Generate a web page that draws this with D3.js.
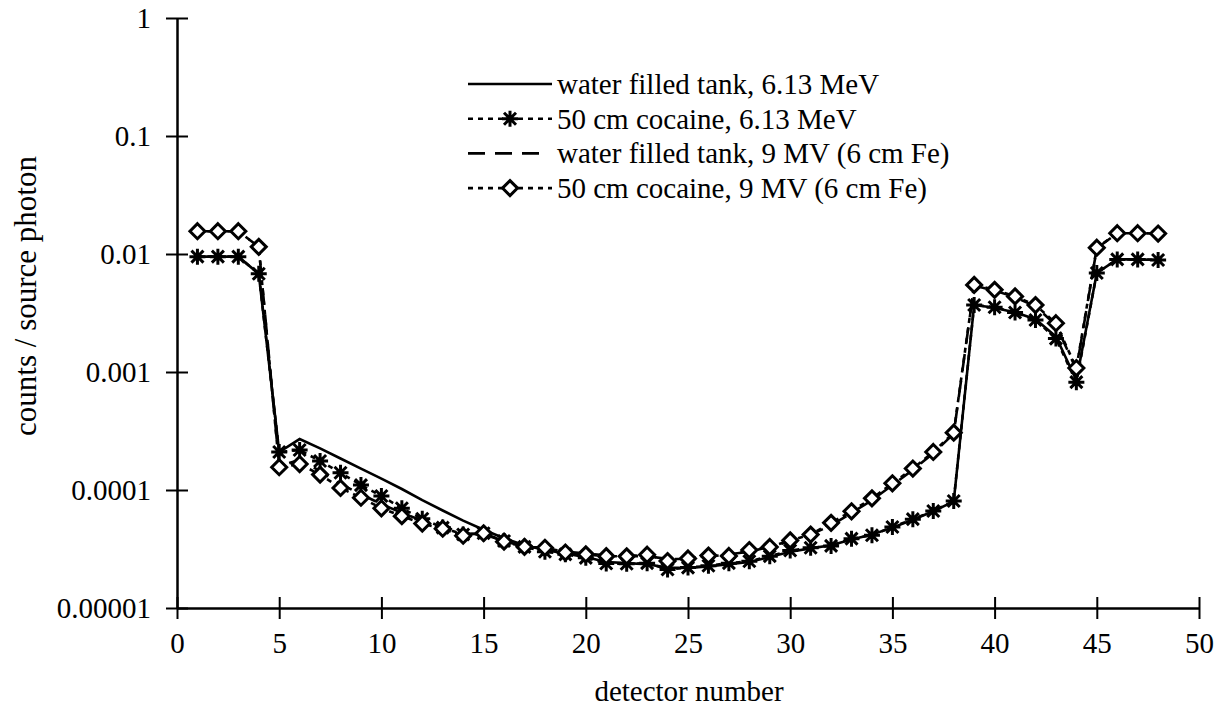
<!DOCTYPE html>
<html>
<head>
<meta charset="utf-8">
<script src="https://cdn.jsdelivr.net/npm/d3@7"></script>
<style>
  body { margin: 0; background: #fff; }
</style>
</head>
<body>
<div id="chart"></div>
<script>
// detector numbers
const detectors = [1, 2, 3, 4, 5, 6, 7, 8, 9, 10, 11, 12, 13, 14, 15, 16, 17, 18, 19, 20, 21, 22, 23, 24,
    25, 26, 27, 28, 29, 30, 31, 32, 33, 34, 35, 36, 37, 38, 39, 40, 41, 42, 43, 44, 45, 46, 47, 48];

// water filled tank, 6.13 MeV
const water613 = [0.0095, 0.0095, 0.0095, 0.0068, 0.00021, 0.00027, 0.000225, 0.000185, 0.000152, 0.000125,
    0.000102, 0.000082, 0.000067, 0.000055, 0.000046, 0.000039, 0.000034, 0.000031, 0.000029, 0.000027,
    0.0000245, 0.000024, 0.0000235, 0.000022, 0.0000218, 0.0000225, 0.0000235, 0.0000245, 0.000027, 0.00003,
    0.000032, 0.000034, 0.000038, 0.000042, 0.000048, 0.000056, 0.000066, 0.00008, 0.0037, 0.0035,
    0.0032, 0.0028, 0.002, 0.00085, 0.0069, 0.009, 0.009, 0.0089];

// 50 cm cocaine, 6.13 MeV
const cocaine613 = [0.0095, 0.0095, 0.0095, 0.0068, 0.00021, 0.000218, 0.000176, 0.00014, 0.00011, 0.000089,
    0.00007, 0.000057, 0.000048, 0.000042, 0.000043, 0.000037, 0.000033, 0.00003, 0.0000285, 0.0000266,
    0.0000238, 0.0000237, 0.000024, 0.0000212, 0.000022, 0.0000228, 0.000024, 0.0000249, 0.0000275, 0.0000307,
    0.0000324, 0.0000336, 0.0000387, 0.0000414, 0.0000486, 0.0000566, 0.0000663, 0.0000807, 0.0037, 0.00354,
    0.00319, 0.00276, 0.00192, 0.00082, 0.0069, 0.009, 0.009, 0.0089];

// water filled tank, 9 MV (6 cm Fe)
const water9 = [0.0156, 0.0156, 0.0156, 0.0115, 0.00016, 0.00018, 0.000145, 0.000112, 0.000092, 0.000076,
    0.000064, 0.000055, 0.000049, 0.000043, 0.000042, 0.000037, 0.000034, 0.000032, 0.00003, 0.000029,
    0.000028, 0.0000275, 0.0000275, 0.000026, 0.000026, 0.0000272, 0.0000285, 0.00003, 0.000033, 0.0000365,
    0.000042, 0.00005, 0.000064, 0.000082, 0.00011, 0.000148, 0.000205, 0.0003, 0.0054, 0.0049,
    0.0043, 0.0036, 0.0025, 0.00105, 0.0112, 0.015, 0.015, 0.0149];

// 50 cm cocaine, 9 MV (6 cm Fe)
const cocaine9 = [0.0156, 0.0156, 0.0156, 0.0115, 0.000156, 0.000166, 0.000135, 0.000104, 0.000086, 0.00007,
    0.00006, 0.000052, 0.000047, 0.000041, 0.000043, 0.0000365, 0.000033, 0.0000324, 0.0000295, 0.0000285,
    0.0000275, 0.0000274, 0.0000283, 0.000025, 0.0000263, 0.0000278, 0.0000276, 0.000031, 0.0000329, 0.0000374,
    0.0000419, 0.0000527, 0.000066, 0.000085, 0.000114, 0.000152, 0.00021, 0.000306, 0.00547, 0.00497,
    0.00437, 0.00369, 0.00259, 0.00108, 0.0113, 0.015, 0.015, 0.0149];

const xTicks = [0, 5, 10, 15, 20, 25, 30, 35, 40, 45, 50];
const yTicks = [0.00001, 0.0001, 0.001, 0.01, 0.1, 1];
const yTickLabels = ['0.00001', '0.0001', '0.001', '0.01', '0.1', '1'];

const seriesNames = ['water filled tank, 6.13 MeV', '50 cm cocaine, 6.13 MeV',
    'water filled tank, 9 MV (6 cm Fe)', '50 cm cocaine, 9 MV (6 cm Fe)'];

const serif = '"Liberation Serif", "Times New Roman", Times, serif';
const width = 1220;
const height = 715;

const svg = d3.select('#chart')
    .append('svg')
    .attr('width', width)
    .attr('height', height)
    .attr('font-family', serif);

const x = d3.scaleLinear().domain([0, 50]).range([177, 1199]);
const y = d3.scaleLog().domain([0.00001, 1]).range([608, 18]);

// series styles
const series = [
    { values: water613, dash: null, marker: null },
    { values: cocaine613, dash: '5,5', marker: 'star' },
    { values: water9, dash: '17,10', marker: null },
    { values: cocaine9, dash: '5,5', marker: 'diamond' }
];

const starPath = 'M-8,0L8,0M0,-8L0,8M-6,-6L6,6M-6,6L6,-6';
const diamondPath = 'M0,-7.5L7.5,0L0,7.5L-7.5,0Z';

// axes
const yAxis = svg.append('g')
    .attr('transform', `translate(${x(0)},0)`)
    .call(d3.axisLeft(y)
        .tickValues(yTicks)
        .tickFormat((d, i) => yTickLabels[i])
        .tickSizeOuter(0)
        .tickPadding(20));

yAxis.attr('font-family', serif).attr('font-size', 29);
yAxis.select('.domain').attr('stroke-width', 2.5);
yAxis.selectAll('.tick line').attr('x1', -11).attr('x2', 11).attr('stroke-width', 2);
yAxis.selectAll('.tick text').attr('dy', '0.32em');

const xAxis = svg.append('g')
    .attr('transform', `translate(0,${y(0.00001)})`)
    .call(d3.axisBottom(x)
        .tickValues(xTicks)
        .tickSizeOuter(0)
        .tickPadding(18));

xAxis.attr('font-family', serif).attr('font-size', 29);
xAxis.select('.domain').attr('stroke-width', 2.5);
xAxis.selectAll('.tick line').attr('y1', -11).attr('y2', 11).attr('stroke-width', 2);

// axis titles
svg.append('text')
    .attr('transform', `translate(36,296) rotate(-90)`)
    .attr('text-anchor', 'middle')
    .attr('font-size', 31)
    .text('counts / source photon');

svg.append('text')
    .attr('x', 689)
    .attr('y', 701)
    .attr('text-anchor', 'middle')
    .attr('font-size', 29)
    .text('detector number');

// lines
const line = d3.line()
    .x((d, i) => x(detectors[i]))
    .y(d => y(d));

series.forEach(s => {
    svg.append('path')
        .datum(s.values)
        .attr('fill', 'none')
        .attr('stroke', '#000')
        .attr('stroke-width', 2.6)
        .attr('stroke-dasharray', s.dash)
        .attr('d', line);
});

// markers
series.forEach(s => {
    if (!s.marker) return;
    svg.append('g')
        .selectAll('path')
        .data(s.values)
        .enter()
        .append('path')
        .attr('transform', (d, i) => `translate(${x(detectors[i])},${y(d)})`)
        .attr('d', s.marker === 'star' ? starPath : diamondPath)
        .attr('fill', s.marker === 'star' ? 'none' : '#fff')
        .attr('stroke', '#000')
        .attr('stroke-width', 3);
});

// legend
const legend = svg.append('g');
seriesNames.forEach((name, i) => {
    const ly = 84 + i * 34.7;
    const s = series[i];
    legend.append('line')
        .attr('x1', 468).attr('x2', i === 2 ? 544 : 552)
        .attr('y1', ly).attr('y2', ly)
        .attr('stroke', '#000')
        .attr('stroke-width', 2.6)
        .attr('stroke-dasharray', s.dash);
    if (s.marker) {
        legend.append('path')
            .attr('transform', `translate(510,${ly})`)
            .attr('d', s.marker === 'star' ? starPath : diamondPath)
            .attr('fill', '#fff')
            .attr('stroke', '#000')
            .attr('stroke-width', 3);
    }
    legend.append('text')
        .attr('x', 557)
        .attr('y', ly + 10)
        .attr('font-size', 29)
        .text(name);
});
</script>
</body>
</html>
